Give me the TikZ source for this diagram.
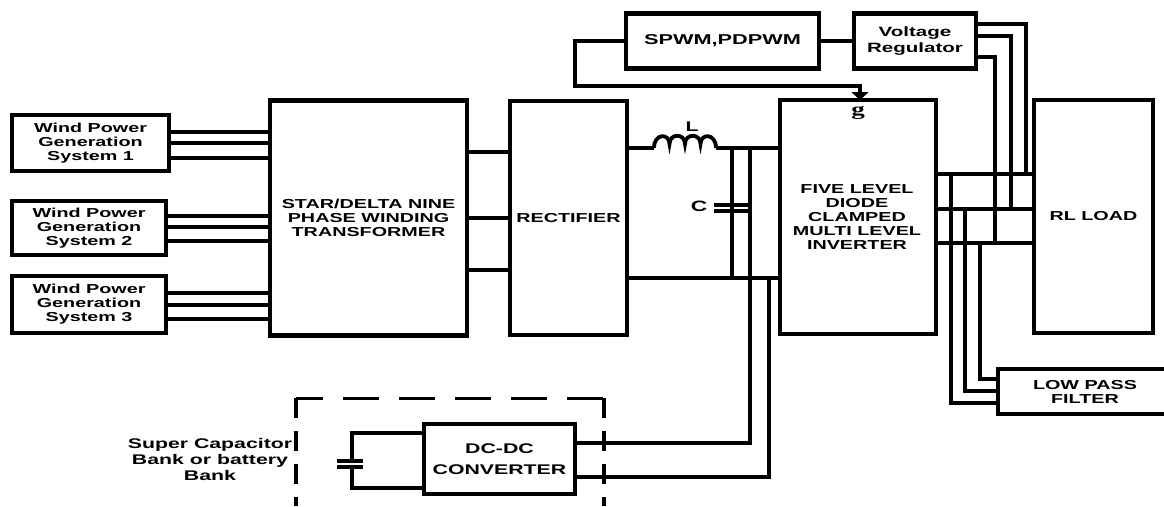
\documentclass[tikz,border=0pt]{standalone}
\usepackage{fontspec}
\setmainfont[FakeStretch=1.52]{Liberation Sans}
\newfontfamily\gfont[FakeStretch=1.5]{Liberation Serif}
\usepackage{tikz}
\usetikzlibrary{arrows.meta, positioning}

\begin{document}
\begin{tikzpicture}[
x=1pt, y=-1pt,
box/.style={rectangle, draw=black, line width=4.2pt, inner sep=0pt, outer sep=0pt, align=center, font=\fontsize{13}{14}\selectfont\bfseries},
wire/.style={draw=black, line width=3.8pt},
thinwire/.style={draw=black, line width=3.2pt},
label/.style={inner sep=0pt, align=center, font=\fontsize{13}{14}\selectfont\bfseries},
dashh/.style={draw=black, line width=3pt, dash pattern=on 36pt off 20pt, dash phase=9pt},
dashv/.style={draw=black, line width=3.6pt, dash pattern=on 20pt off 13pt}
]
\useasboundingbox (0,0) rectangle (1164,506);

% sources
\node[box, minimum width=157pt, minimum height=56pt] (wind1) at (90.5,143) {Wind Power\\Generation\\System 1};
\node[box, minimum width=154pt, minimum height=54pt] (wind2) at (89,228) {Wind Power\\Generation\\System 2};
\node[box, minimum width=154pt, minimum height=57pt] (wind3) at (89,304.5) {Wind Power\\Generation\\System 3};

% main blocks
\node[box, minimum width=197pt, minimum height=235pt] (trafo) at (368.5,218) {STAR/DELTA NINE\\PHASE WINDING\\TRANSFORMER};
\node[box, minimum width=117pt, minimum height=234pt] (rect) at (568.5,218) {RECTIFIER};
\node[box, minimum width=156pt, minimum height=234pt] (inv) at (858,217) {};
\node[box, minimum width=119pt, minimum height=233pt] (load) at (1093.5,216.5) {RL LOAD};
\node[box, font=\fontsize{14.3}{16}\selectfont\bfseries, minimum width=193pt, minimum height=55pt] (spwm) at (722.5,41) {SPWM,PDPWM};
\node[box, font=\fontsize{13.5}{16}\selectfont\bfseries, minimum width=122pt, minimum height=55pt] (reg) at (915,41) {Voltage\\Regulator};
\node[box, minimum width=174pt, minimum height=45pt] (lpf) at (1085,391.5) {LOW PASS\\FILTER};
\node[box, font=\fontsize{14}{21}\selectfont\bfseries, minimum width=151pt, minimum height=70pt] (conv) at (499.5,459) {DC-DC\\CONVERTER};

\node[label] (invtext) at (857,217) {FIVE LEVEL\\DIODE\\CLAMPED\\MULTI LEVEL\\INVERTER};
\node[label, font=\fontsize{18}{18}\selectfont\bfseries\gfont] (gate) at (858,113) {g};
\node[label, font=\fontsize{14}{14}\selectfont\bfseries] (lname) at (692,127) {L};
\node[label, font=\fontsize{15}{15}\selectfont\bfseries] (cname) at (699,206) {C};
\node[label, font=\fontsize{14}{16}\selectfont\bfseries] (bank) at (210,459) {Super Capacitor\\Bank or battery\\Bank};

% wind to transformer
\foreach \src/\yy in {wind1/132, wind1/143, wind1/158, wind2/216, wind2/227, wind2/241, wind3/293, wind3/305, wind3/319}
  \draw[wire] (\src.east |- 0,\yy) -- (trafo.west |- 0,\yy);

% transformer to rectifier
\foreach \yy in {152, 218, 270}
  \draw[wire] (trafo.east |- 0,\yy) -- (rect.west |- 0,\yy);

% filter
\coordinate (coilin) at (654,148);
\coordinate (coilout) at (716,148);
\coordinate (tapa) at (732,148);
\coordinate (tapb) at (750,148);
\coordinate (lowa) at (732,278);
\coordinate (lowb) at (750,278);
\coordinate (lowc) at (769,278);
\draw[wire] (rect.east |- coilin) -- (coilin);
\draw[wire] (coilout) -- (inv.west |- coilout);
\draw[wire] (rect.east |- lowa) -- (inv.west |- lowa);
\draw[wire] (coilin) .. controls (654,133) and (669.5,133) .. (669.5,144)
  .. controls (669.5,133) and (685,133) .. (685,144)
  .. controls (685,133) and (700.5,133) .. (700.5,144)
  .. controls (700.5,133) and (716,133) .. (coilout);
\draw[thinwire] (tapa) -- (lowa);
\draw[wire] (tapb) -- (lowb);
\draw[thinwire] (714,205) -- (748,205);
\draw[thinwire] (714,211) -- (748,211);

% storage
\coordinate (storetop) at (352,433);
\coordinate (storebot) at (352,488);
\draw[wire] (conv.west |- storetop) -- (storetop) -- (352,461);
\draw[wire] (conv.west |- storebot) -- (storebot) -- (352,467);
\draw[wire] (337,461) -- (363,461);
\draw[wire] (337,467) -- (363,467);
\draw[wire] (conv.east |- 0,443) -- (lowb |- 0,443) -- (lowb);
\draw[wire] (conv.east |- 0,477) -- (lowc |- 0,477) -- (lowc);
\draw[dashh] (296,398) -- (604,398);
\draw[dashv] (296,398) -- (296,506);
\draw[dashv] (604,398) -- (604,506);

% control loop
\draw[wire] (spwm.east) -- (reg.west);
\draw[wire, -{Triangle[length=8pt, width=17pt]}] (spwm.west) -- (575,41) -- (575,86) -- (860,86) -- (inv.north -| 860,0);
\draw[wire] (reg.east |- 0,24) -- (1026,24) -- (1026,174);
\draw[wire] (reg.east |- 0,36) -- (1011,36) -- (1011,209);
\draw[wire] (reg.east |- 0,57) -- (995,57) -- (995,243);

% inverter to load
\foreach \yy in {174, 209, 243}
  \draw[wire] (inv.east |- 0,\yy) -- (load.west |- 0,\yy);

% low pass filter taps
\draw[wire] (951,174) -- (951,403) -- (lpf.west |- 0,403);
\draw[wire] (965,209) -- (965,391) -- (lpf.west |- 0,391);
\draw[wire] (980,243) -- (980,379) -- (lpf.west |- 0,379);

\end{tikzpicture}
\end{document}
